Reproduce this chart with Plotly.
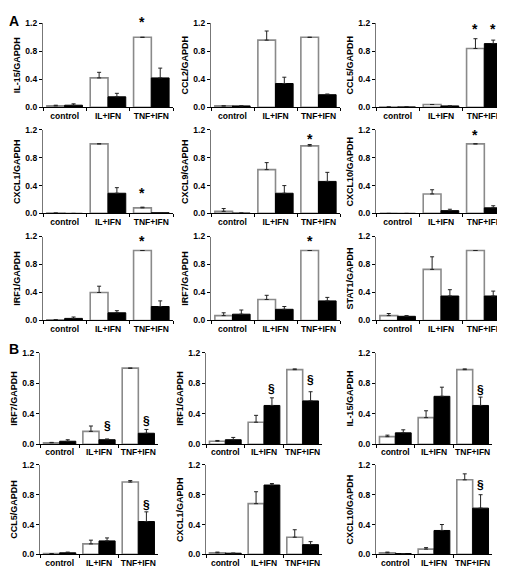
import plotly.graph_objects as go

W, H = 505, 569

categories = ["control", "IL+IFN", "TNF+IFN"]

titles = ["IL-15/GAPDH", "CCL2/GAPDH", "CCL5/GAPDH",
          "CXCL1/GAPDH", "CXCL9/GAPDH", "CXCL10/GAPDH",
          "IRF1/GAPDH", "IRF7/GAPDH", "STAT1/GAPDH",
          "IRF7/GAPDH", "IRF1/GAPDH", "IL-15/GAPDH",
          "CCL5/GAPDH", "CXCL1/GAPDH", "CXCL10/GAPDH"]

white_vals = [
    [0.02, 0.42, 1.00],
    [0.02, 0.96, 1.00],
    [0.005, 0.04, 0.84],
    [0.005, 1.00, 0.08],
    [0.03, 0.63, 0.97],
    [0.0, 0.28, 1.00],
    [0.01, 0.40, 1.00],
    [0.07, 0.30, 1.00],
    [0.07, 0.73, 1.00],
    [0.02, 0.17, 1.00],
    [0.04, 0.29, 0.98],
    [0.10, 0.35, 0.98],
    [0.01, 0.14, 0.97],
    [0.02, 0.68, 0.23],
    [0.02, 0.07, 1.00],
]
white_err = [
    [0.01, 0.08, 0.0],
    [0.0, 0.13, 0.0],
    [0.0, 0.0, 0.14],
    [0.0, 0.0, 0.01],
    [0.04, 0.10, 0.02],
    [0.0, 0.06, 0.0],
    [0.0, 0.09, 0.0],
    [0.04, 0.06, 0.0],
    [0.03, 0.18, 0.0],
    [0.005, 0.07, 0.0],
    [0.01, 0.09, 0.01],
    [0.02, 0.09, 0.01],
    [0.0, 0.05, 0.02],
    [0.01, 0.16, 0.10],
    [0.01, 0.02, 0.08],
]
black_vals = [
    [0.03, 0.15, 0.42],
    [0.02, 0.34, 0.18],
    [0.005, 0.02, 0.91],
    [0.0, 0.29, 0.01],
    [0.005, 0.29, 0.46],
    [0.0, 0.04, 0.08],
    [0.03, 0.11, 0.20],
    [0.09, 0.16, 0.28],
    [0.06, 0.35, 0.35],
    [0.04, 0.06, 0.145],
    [0.06, 0.51, 0.57],
    [0.15, 0.63, 0.51],
    [0.02, 0.18, 0.44],
    [0.015, 0.93, 0.13],
    [0.01, 0.32, 0.62],
]
black_err = [
    [0.02, 0.05, 0.14],
    [0.0, 0.09, 0.01],
    [0.0, 0.0, 0.05],
    [0.0, 0.08, 0.0],
    [0.0, 0.11, 0.13],
    [0.0, 0.02, 0.03],
    [0.02, 0.03, 0.08],
    [0.06, 0.04, 0.05],
    [0.01, 0.09, 0.07],
    [0.02, 0.01, 0.05],
    [0.03, 0.10, 0.12],
    [0.04, 0.12, 0.11],
    [0.01, 0.04, 0.13],
    [0.0, 0.02, 0.04],
    [0.0, 0.08, 0.18],
]

# significance marks: (panel, category index, series 0=white 1=black, y value, symbol)
marks = [
    (0, 2, 0, 1.22, "*"),
    (2, 2, 0, 1.12, "*"), (2, 2, 1, 1.12, "*"),
    (3, 2, 0, 0.30, "*"),
    (4, 2, 0, 1.07, "*"),
    (5, 2, 0, 1.12, "*"),
    (6, 2, 0, 1.13, "*"),
    (7, 2, 0, 1.13, "*"),
    (9, 1, 1, 0.24, "§"), (9, 2, 1, 0.31, "§"),
    (10, 1, 1, 0.72, "§"), (10, 2, 1, 0.85, "§"),
    (11, 2, 1, 0.71, "§"),
    (12, 2, 1, 0.66, "§"),
    (14, 2, 1, 0.93, "§"),
]

yticks = [0, 0.4, 0.8, 1.2]
yticktext = ["0.0", "0.4", "0.8", "1.2"]

# pixel boxes (left, right) per column and (top, bottom) per row
colsA = [(35, 165), (203, 332), (368, 498)]
colsB = [(32, 150), (198, 314), (368, 484)]
rowsA = [(10.5, 96), (119, 204), (227.5, 313)]
rowsB = [(346, 439), (460, 551)]

boxes = []
for r in rowsA:
    for c in colsA:
        boxes.append((c, r))
for r in rowsB:
    for c in colsB:
        boxes.append((c, r))

FONT = "Liberation Sans"
TFONT = "Liberation Sans Narrow, Arial Narrow, Liberation Sans"
fig = go.Figure()
layout = {}
for i in range(15):
    xa = "x" if i == 0 else f"x{i+1}"
    ya = "y" if i == 0 else f"y{i+1}"
    fig.add_trace(go.Bar(
        x=categories, y=white_vals[i], xaxis=xa, yaxis=ya,
        marker=dict(color="white", line=dict(color="#8a8a8a", width=1.6)),
        error_y=dict(type="data", array=white_err[i], arrayminus=[0, 0, 0],
                     symmetric=False, color="#222", thickness=1, width=2),
        offsetgroup="w", showlegend=False))
    fig.add_trace(go.Bar(
        x=categories, y=black_vals[i], xaxis=xa, yaxis=ya,
        marker=dict(color="black", line=dict(color="black", width=1)),
        error_y=dict(type="data", array=black_err[i], arrayminus=[0, 0, 0],
                     symmetric=False, color="#222", thickness=1, width=2),
        offsetgroup="b", showlegend=False))
    (l, r), (t, b) = boxes[i]
    k = "" if i == 0 else str(i + 1)
    layout["xaxis" + k] = dict(
        domain=[l / W, r / W], anchor=ya, type="category", range=[-0.5, 2.5],
        showline=True, linecolor="black", linewidth=1,
        ticks="outside", tickson="boundaries", ticklen=3, tickcolor="black",
        tickangle=0,
        tickfont=dict(family=FONT, size=8.5, color="black", weight="bold"),
        showgrid=False, zeroline=False, fixedrange=True)
    layout["yaxis" + k] = dict(
        domain=[1 - b / H, 1 - t / H], anchor=xa, range=[0, 1.2],
        showline=True, linecolor="#777", linewidth=1.2,
        ticks="outside", ticklen=3, tickcolor="black",
        tickvals=yticks, ticktext=yticktext,
        tickfont=dict(family=FONT, size=8.5, color="black", weight="bold"),
        title=dict(text=titles[i], standoff=3,
                   font=dict(family=TFONT, size=9, color="black", weight="bold")),
        showgrid=False, zeroline=False, fixedrange=True)

annotations = []
for (p, ci, s, yv, sym) in marks:
    xa = "x" if p == 0 else f"x{p+1}"
    (l, r), (t, b) = boxes[p]
    ypix = b - (yv / 1.2) * (b - t)
    off = -0.205 if s == 0 else 0.205
    annotations.append(dict(
        x=ci + off, y=1 - ypix / H, xref=xa, yref="paper", text=sym, showarrow=False,
        yanchor="middle", xanchor="center",
        font=dict(family=FONT, size=14 if sym == "*" else 12, color="black", weight="bold")))

annotations.append(dict(x=6 / W, y=1 - 8 / H, xref="paper", yref="paper", text="A",
                        showarrow=False, xanchor="center", yanchor="middle",
                        font=dict(family=FONT, size=14, color="black", weight="bold")))
annotations.append(dict(x=6 / W, y=1 - 342 / H, xref="paper", yref="paper", text="B",
                        showarrow=False, xanchor="center", yanchor="middle",
                        font=dict(family=FONT, size=14, color="black", weight="bold")))

fig.update_layout(
    width=W, height=H, margin=dict(l=0, r=0, t=0, b=0),
    paper_bgcolor="white", plot_bgcolor="white",
    barmode="group", bargap=0.18, bargroupgap=0,
    annotations=annotations, **layout)

fig.write_html("out.html")
